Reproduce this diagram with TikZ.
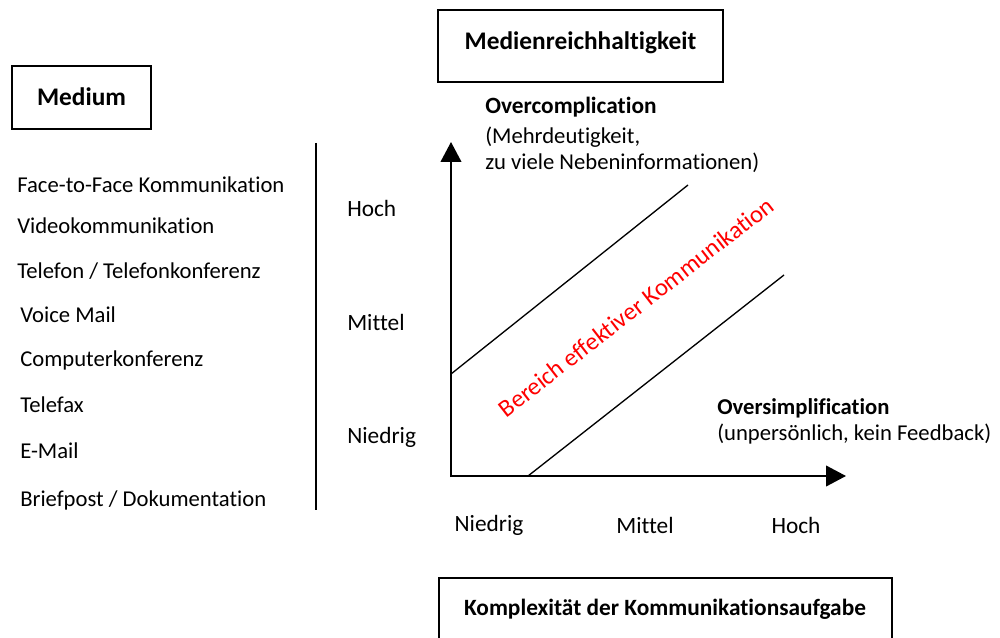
\documentclass[tikz,border=0pt]{standalone}
\usepackage{fontspec}
\setmainfont[Ligatures={NoCommon}]{Carlito}
\usetikzlibrary{arrows.meta}
\begin{document}
\begin{tikzpicture}[x=0.75pt,y=-0.75pt,
  lbl/.style={font=\fontsize{17}{20}\selectfont, inner sep=0pt},
  axlbl/.style={font=\fontsize{17.5}{20}\selectfont, inner sep=0pt},
  head/.style={font=\fontsize{17.5}{20}\selectfont\bfseries, inner sep=0pt},
  bighead/.style={font=\fontsize{19}{22}\selectfont\bfseries, inner sep=0pt},
  titlebox/.style={draw, line width=1.1pt},
  axis/.style={line width=1.5pt, -{Triangle[length=15pt,width=15.5pt]}},
  diag/.style={line width=1pt}]
\useasboundingbox (0,0) rectangle (1000,638);
\clip (0,0) rectangle (1000,638);
% title boxes
\draw[titlebox] (12,66) rectangle (151,129);
\node[bighead] (medium) at (81.5,97) {Medium};
\draw[titlebox] (438,10) rectangle (723,82);
\node[bighead] (mrh) at (580.5,43) {Medienreichhaltigkeit};
\draw[titlebox] (439,578) rectangle (892,660);
\node[head] (komp) at (665,609) {Komplexität der Kommunikationsaufgabe};
% separator
\coordinate (septop) at (316,143);
\coordinate (sepbot) at (316,510);
\draw[line width=1pt] (septop) -- (sepbot);
% media list
\node[lbl, anchor=west] (m1) at (17,185) {Face-to-Face Kommunikation};
\node[lbl, anchor=west] (m2) at (17,226) {Videokommunikation};
\node[lbl, anchor=west] (m3) at (17,271) {Telefon / Telefonkonferenz};
\node[lbl, anchor=west] (m4) at (20,315) {Voice Mail};
\node[lbl, anchor=west] (m5) at (20,360) {Computerkonferenz};
\node[lbl, anchor=west] (m6) at (20,405) {Telefax};
\node[lbl, anchor=west] (m7) at (20,451) {E-Mail};
\node[lbl, anchor=west] (m8) at (20,500) {Briefpost / Dokumentation};
% y labels
\node[axlbl, anchor=west] (yh) at (347,208) {Hoch};
\node[axlbl, anchor=west] (ym) at (347,322) {Mittel};
\node[axlbl, anchor=west] (yn) at (347,437) {Niedrig};
% x labels
\node[axlbl] (xn) at (489,525) {Niedrig};
\node[axlbl] (xm) at (645,525) {Mittel};
\node[axlbl] (xh) at (796,525) {Hoch};
% axes
\coordinate (origin) at (451,476);
\coordinate (ytop) at (451,142);
\coordinate (xend) at (846,476);
\draw[axis] (451,477) -- (ytop);
\draw[axis] (450.25,476) -- (xend);
% diagonals
\coordinate (u1) at (451,374);
\coordinate (u2) at (688,185);
\coordinate (l1) at (528,476);
\coordinate (l2) at (784,275);
\draw[diag] (u1) -- (u2);
\draw[diag] (l1) -- (l2);
% red label
\node[font=\fontsize{18.5}{21}\selectfont, inner sep=0pt, text=red, rotate=37.8] (eff) at (636,307) {Bereich effektiver Kommunikation};
% annotations
\node[head, anchor=west] (oc) at (485,107) {Overcomplication};
\node[lbl, anchor=west] (oc2) at (485,137) {(Mehrdeutigkeit,};
\node[lbl, anchor=west] (oc3) at (485,163) {zu viele Nebeninformationen)};
\node[font=\fontsize{17}{20}\selectfont\bfseries, inner sep=0pt, anchor=west] (os) at (717,408) {Oversimplification};
\node[lbl, anchor=west] (os2) at (717,434) {(unpersönlich, kein Feedback)};
\end{tikzpicture}
\end{document}
